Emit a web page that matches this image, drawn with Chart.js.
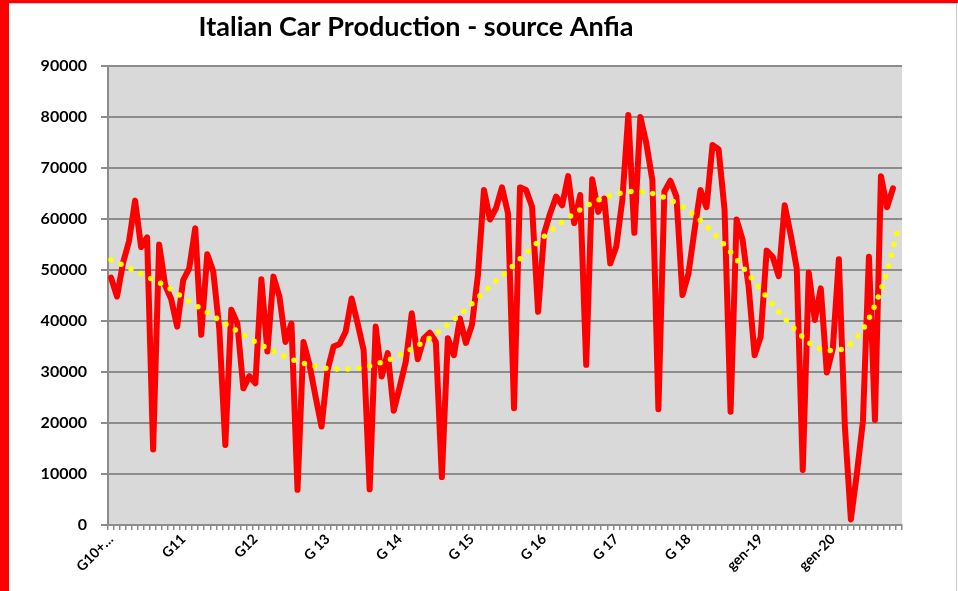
<!DOCTYPE html>
<html>
<head>
<meta charset="utf-8">
<script src="https://cdn.jsdelivr.net/npm/chart.js@4.4.1/dist/chart.umd.min.js"></script>
<style>
  html, body { margin: 0; padding: 0; background: #fff; }
  #wrap { position: relative; width: 958px; height: 591px; overflow: hidden; }
  #frame-left { position: absolute; left: 0; top: 0; width: 9px; height: 591px; background: #ff0000; }
  #frame-top { position: absolute; left: 0; top: 0; width: 958px; height: 3px; background: #ff0000; }
  #frame-line { position: absolute; left: 9px; top: 3px; width: 947px; height: 600px; border-top: 1px solid #c8c8c8; border-right: 1px solid #c8c8c8; }
</style>
</head>
<body>
<div id="wrap">
  <canvas id="chart"></canvas>
  <div id="frame-left"></div>
  <div id="frame-top"></div>
  <div id="frame-line"></div>
</div>
<script>
// Italian car production, monthly units
const chartTitle = 'Italian Car Production - source Anfia';
const years = [2010, 2011, 2012, 2013, 2014, 2015, 2016, 2017, 2018, 2019, 2020];
const yearTickLabels = ['G10+…', 'G11', 'G12', 'G 13', 'G 14', 'G 15', 'G 16', 'G 17', 'G 18', 'gen-19', 'gen-20'];
const yTicks = [0, 10000, 20000, 30000, 40000, 50000, 60000, 70000, 80000, 90000];

const production = [
  48500, 44800, 51400, 55700, 63600, 54500, 56400, 14800, 55000, 47000, 44300, 38900, // 2010
  48000, 50300, 58200, 37300, 53100, 49700, 38500, 15700, 42200, 39500, 26800, 29200, // 2011
  27800, 48200, 34000, 48700, 44800, 35900, 39500, 6900, 35900, 31400, 25200, 19300,  // 2012
  30400, 35000, 35500, 37900, 44400, 39500, 34300, 7000, 38900, 29100, 33700, 22400,  // 2013
  27100, 32000, 41500, 32500, 36600, 37700, 35900, 9400, 36600, 33300, 40500, 35700,  // 2014
  39200, 49000, 65700, 59900, 62100, 66200, 61100, 22900, 66200, 65700, 62400, 41800, // 2015
  57200, 61100, 64400, 62700, 68400, 59200, 64700, 31400, 67800, 61400, 64000, 51300, // 2016
  54600, 63700, 80400, 57300, 80000, 74800, 67600, 22700, 65400, 67500, 64400, 45100, // 2017
  49300, 57800, 65700, 62300, 74500, 73700, 61800, 22200, 59900, 55900, 46700, 33300, // 2018
  36900, 53800, 52600, 48800, 62700, 56900, 50300, 10800, 49500, 40200, 46400, 29900, // 2019
  34600, 52100, 19300, 1100, 10100, 20300, 52600, 20600, 68400, 62300, 66000          // 2020
];

// polynomial trend line, read every 3 months
const trendMonthIndex = [0, 3, 6, 9, 12, 15, 18, 21, 24, 27, 30, 33, 36, 39, 42, 45, 48, 51, 54, 57, 60, 63,
  66, 69, 72, 75, 78, 81, 84, 87, 90, 93, 96, 99, 102, 105, 108, 111, 114, 117, 120, 123, 126, 129, 131];
const trendValues = [52000, 50400, 48700, 46900, 44600, 42400, 40200, 38000, 35900, 34100, 32500, 31400,
  30700, 30600, 30900, 31900, 33300, 35200, 37500, 40300, 43400, 46800, 49900, 53300, 56600, 59400,
  61800, 63700, 64900, 65400, 65000, 63700, 61600, 58600, 54900, 50600, 46200, 41800, 38000, 35000,
  34200, 35500, 40500, 49700, 59000];

const categories = [];
const tickNames = [];
years.forEach((y, yi) => {
  for (let m = 1; m <= 12; m++) {
    categories.push(y + '-' + m);
    tickNames.push(m === 1 ? yearTickLabels[yi] : '');
  }
});

const trendData = categories.map(() => null);
trendMonthIndex.forEach((idx, k) => { trendData[idx] = trendValues[k]; });

const plotBackground = {
  id: 'plotBackground',
  beforeDraw(chart) {
    const { ctx, chartArea } = chart;
    ctx.save();
    ctx.fillStyle = '#d9d9d9';
    ctx.fillRect(chartArea.left, chartArea.top, chartArea.right - chartArea.left, chartArea.bottom - chartArea.top);
    ctx.restore();
  }
};

const titleText = {
  id: 'titleText',
  afterDraw(chart) {
    const ctx = chart.ctx;
    ctx.save();
    ctx.font = 'bold 27px Lato';
    ctx.fillStyle = '#000';
    ctx.textAlign = 'center';
    ctx.textBaseline = 'middle';
    ctx.fillText(chartTitle, 416, 27);
    ctx.restore();
  }
};

new Chart(document.getElementById('chart'), {
  type: 'line',
  data: {
    labels: categories,
    datasets: [{
      label: 'trend',
      data: trendData,
      borderColor: '#ffff00',
      borderWidth: 5.5,
      borderDash: [0, 11],
      borderCapStyle: 'round',
      pointRadius: 0,
      spanGaps: true,
      cubicInterpolationMode: 'monotone',
      tension: 0.4,
      fill: false
    }, {
      label: 'production',
      data: production,
      borderColor: '#ff0000',
      borderWidth: 6,
      borderJoinStyle: 'round',
      borderCapStyle: 'round',
      pointRadius: 0,
      tension: 0,
      fill: false
    }]
  },
  options: {
    responsive: true,
    maintainAspectRatio: false,
    animation: false,
    layout: { padding: { top: 66, right: 56, bottom: 0, left: 0 } },
    plugins: {
      legend: { display: false },
      tooltip: { enabled: false }
    },
    scales: {
      x: {
        offset: true,
        afterFit: (scale) => { scale.height = 66; },
        grid: { drawOnChartArea: false, drawTicks: true, tickLength: 5, offset: true, color: '#8c8c8c', lineWidth: 1.5 },
        border: { color: '#8c8c8c', width: 2 },
        ticks: {
          autoSkip: false,
          maxRotation: 45,
          minRotation: 45,
          padding: 1,
          color: '#000',
          font: { family: 'Lato', size: 14, weight: 'bold' },
          callback: (val, i) => tickNames[i]
        }
      },
      y: {
        min: 0,
        max: 90000,
        afterFit: (scale) => { scale.width = 108; },
        afterBuildTicks: (scale) => { scale.ticks = yTicks.map(v => ({ value: v })); },
        grid: { color: '#8c8c8c', lineWidth: 2, tickLength: 7 },
        border: { color: '#8c8c8c', width: 2 },
        ticks: {
          padding: 14,
          color: '#000',
          font: { family: 'Lato', size: 16, weight: 'bold' },
          callback: (v) => String(v)
        }
      }
    }
  },
  plugins: [plotBackground, titleText]
});
</script>
</body>
</html>
